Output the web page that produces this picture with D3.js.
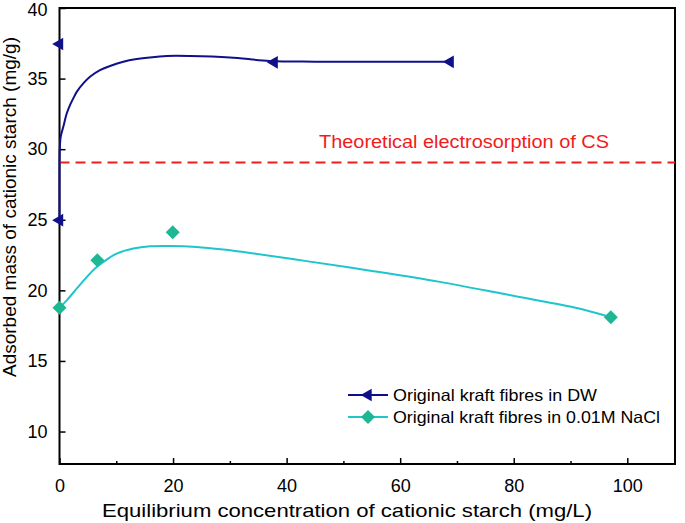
<!DOCTYPE html>
<html><head><meta charset="utf-8">
<script src="https://cdn.jsdelivr.net/npm/d3@7"></script>
<style>body{margin:0;background:#fff;} svg{display:block;font-family:"Liberation Sans",Arial,sans-serif;}</style>
</head><body>
<svg id="c" width="685" height="523"></svg>
<script>
// Data
const dwPoints = [[0,37.45],[0,24.97],[37.8,36.15],[68.8,36.19]];
const dwCurve = [[0,24.97],[0,29.0],[0.05,30.0],[0.22,30.9],[0.67,31.58],[1.27,32.53],[1.85,33.12],[2.43,33.6],[3.03,34.06],[4.19,34.66],[5.37,35.13],[7.13,35.6],[8.9,35.89],[11.24,36.19],[13.6,36.38],[15.9,36.5],[18.9,36.6],[23,36.6],[30,36.5],[37,36.25],[45,36.2],[55,36.19],[68.8,36.19]];
const naclPoints = [[0,18.77],[6.66,22.13],[19.94,24.11],[97.1,18.1]];
const naclCurve = [[0,18.77],[1.27,19.29],[3.03,20.12],[4.79,20.94],[6.55,21.65],[8.31,22.18],[10.07,22.6],[13.0,22.96],[15.94,23.12],[19.46,23.14],[24.16,23.07],[28.85,22.89],[33.55,22.65],[43.5,22.07],[55.3,21.36],[67,20.6],[78.8,19.7],[90.5,18.8],[97.1,18.1]];
const theoretical = 29.05;
const xTicks = [0,20,40,60,80,100];
const xMinor = [10,30,50,70,90];
const yTicks = [10,15,20,25,30,35,40];
const labels = {
  x: "Equilibrium concentration of cationic starch (mg/L)",
  y: "Adsorbed mass of cationic starch (mg/g)",
  theo: "Theoretical electrosorption of CS",
  s1: "Original kraft fibres in DW",
  s2: "Original kraft fibres in 0.01M NaCl"
};

const L=59.5, R=675, T=8, B=464;
const navy="#10108a", teal="#1db893", cyan="#1ec6cc", red="#f01c1c";
const svg=d3.select("#c");
const x=d3.scaleLinear().domain([0,108.4]).range([L,R]);
const y=d3.scaleLinear().domain([7.7,40]).range([B,T]);

// frame
svg.append("rect").attr("x",L).attr("y",T).attr("width",R-L).attr("height",B-T)
  .attr("fill","none").attr("stroke","#000").attr("stroke-width",2);

// x axis
const gx=svg.append("g").attr("transform",`translate(0,${B})`);
gx.call(d3.axisBottom(x).tickValues(xTicks).tickSizeInner(-6).tickSizeOuter(0).tickPadding(15).tickFormat(d3.format("d")));
gx.select(".domain").remove();
gx.selectAll(".tick line").attr("stroke-width",1.5);
gx.selectAll("text").attr("font-size",18).attr("fill","#000");
const gxm=svg.append("g").attr("transform",`translate(0,${B})`);
gxm.call(d3.axisBottom(x).tickValues(xMinor).tickSizeInner(-3).tickSizeOuter(0).tickFormat(""));
gxm.select(".domain").remove();
gxm.selectAll(".tick line").attr("stroke-width",1.5);

// y axis
const gy=svg.append("g").attr("transform",`translate(${L},0)`);
gy.call(d3.axisLeft(y).tickValues(yTicks).tickSizeInner(-6).tickSizeOuter(0).tickPadding(12).tickFormat(d3.format("d")));
gy.select(".domain").remove();
gy.selectAll(".tick line").attr("stroke-width",1.5);
gy.selectAll("text").attr("font-size",18).attr("fill","#000");
gy.selectAll(".tick").filter(d=>d===40).select("text").attr("dy","0.42em");

// labels
svg.append("text").attr("x",102).attr("y",517)
  .attr("font-size",18.5).attr("textLength",490).attr("lengthAdjust","spacingAndGlyphs").text(labels.x);
svg.append("text").attr("transform","translate(16,207) rotate(-90)").attr("text-anchor","middle")
  .attr("font-size",19).text(labels.y);

// theoretical line
svg.append("line").attr("x1",x(0)).attr("x2",R).attr("y1",y(theoretical)).attr("y2",y(theoretical))
  .attr("stroke",red).attr("stroke-width",2).attr("stroke-dasharray","10,6");
svg.append("text").attr("x",319).attr("y",148).attr("font-size",17.5).attr("fill",red)
  .attr("textLength",290).attr("lengthAdjust","spacingAndGlyphs").text(labels.theo);

const line=d3.line().x(d=>x(d[0])).y(d=>y(d[1])).curve(d3.curveCatmullRom.alpha(0.5));
svg.append("path").attr("d",line(dwCurve)).attr("fill","none").attr("stroke",navy).attr("stroke-width",2);
svg.append("path").attr("d",line(naclCurve)).attr("fill","none").attr("stroke",cyan).attr("stroke-width",2);

const tri=d3.symbol().type(d3.symbolTriangle).size(70);
function triMark(g,cx,cy){
  g.append("path").attr("d",tri()).attr("transform",`translate(${cx},${cy}) rotate(-90)`).attr("fill",navy);
}
function diaMark(g,cx,cy){
  g.append("path").attr("d","M0,-7L7,0L0,7L-7,0Z").attr("transform",`translate(${cx},${cy})`).attr("fill",teal);
}
dwPoints.forEach(d=>triMark(svg,x(d[0]),y(d[1])));
naclPoints.forEach(d=>diaMark(svg,x(d[0]),y(d[1])));

// legend
const lg=svg.append("g");
lg.append("line").attr("x1",348).attr("x2",388).attr("y1",395).attr("y2",395).attr("stroke",navy).attr("stroke-width",2);
triMark(lg,368,395);
lg.append("text").attr("x",393).attr("y",401).attr("font-size",16.5)
  .attr("textLength",204).attr("lengthAdjust","spacingAndGlyphs").text(labels.s1);
lg.append("line").attr("x1",348).attr("x2",388).attr("y1",417).attr("y2",417).attr("stroke",cyan).attr("stroke-width",2);
diaMark(lg,368,417);
lg.append("text").attr("x",393).attr("y",423).attr("font-size",16.5)
  .attr("textLength",267).attr("lengthAdjust","spacingAndGlyphs").text(labels.s2);
</script>
</body></html>
